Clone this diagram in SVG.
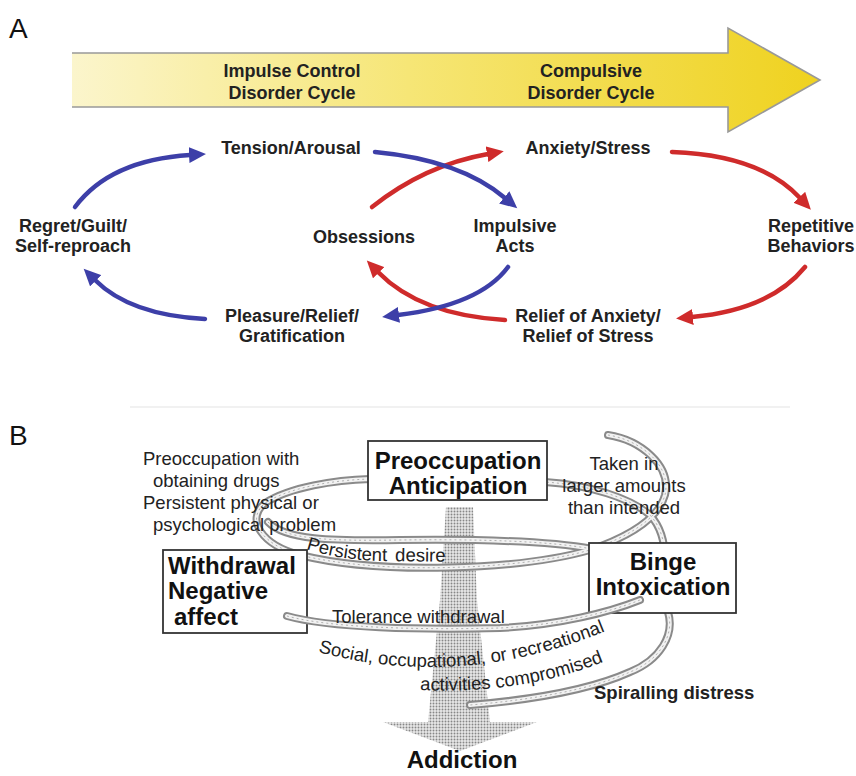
<svg xmlns="http://www.w3.org/2000/svg" width="856" height="776" viewBox="0 0 856 776">
<style>
.lbl{font-family:"Liberation Sans",Arial,sans-serif;font-size:28px;fill:#111}
.ta{font-family:"Liberation Sans",Arial,sans-serif;font-size:18px;font-weight:bold;fill:#222;text-anchor:middle}
.bx{fill:#fff;stroke:#333;stroke-width:1.8}
.tb{font-family:"Liberation Sans",Arial,sans-serif;font-size:24px;font-weight:bold;fill:#111}
.tr{font-family:"Liberation Sans",Arial,sans-serif;font-size:18.5px;fill:#222}
.blue{fill:none;stroke:#3d3fa8;stroke-width:4.5;stroke-linecap:round}
.red{fill:none;stroke:#cf2b2b;stroke-width:4.5;stroke-linecap:round}
.tubeO{fill:none;stroke:#8a8a8a;stroke-width:8;stroke-linecap:round;stroke-linejoin:round}
.tubeI{fill:none;stroke:#f2f2f2;stroke-width:4;stroke-linecap:round;stroke-linejoin:round}
.tubeT{fill:none;stroke:#b0b0b0;stroke-width:1;stroke-dasharray:2 3}
</style>
<defs>
<linearGradient id="yel" x1="0" y1="0" x2="1" y2="0">
<stop offset="0" stop-color="#fbf5cc"/>
<stop offset="0.45" stop-color="#f6e676"/>
<stop offset="1" stop-color="#efd21f"/>
</linearGradient>
<pattern id="dots" width="3" height="3" patternUnits="userSpaceOnUse">
<rect width="3" height="3" fill="#e6e6e6"/>
<circle cx="1.5" cy="1.5" r="0.95" fill="#7a7a7a"/>
</pattern>
<marker id="hb" markerUnits="userSpaceOnUse" markerWidth="18" markerHeight="16" viewBox="0 0 18 16" refX="1" refY="8" orient="auto">
<path d="M0,0 L17,8 L0,16 z" fill="#3d3fa8"/>
</marker>
<marker id="hr" markerUnits="userSpaceOnUse" markerWidth="18" markerHeight="16" viewBox="0 0 18 16" refX="1" refY="8" orient="auto">
<path d="M0,0 L17,8 L0,16 z" fill="#cf2b2b"/>
</marker>
</defs>
<rect width="856" height="776" fill="#fff"/>

<!-- Panel A -->
<text class="lbl" x="9" y="38">A</text>
<g id="progress-arrow">
<polygon points="72,53 728,53 728,28 820,80 728,132 728,107 72,107" fill="url(#yel)"/>
<polyline points="72,53 728,53 728,28 820,80 728,132 728,107 72,107" fill="none" stroke="#999" stroke-width="1.6"/>
<text class="ta" x="292" y="77">Impulse Control</text>
<text class="ta" x="292" y="99">Disorder Cycle</text>
<text class="ta" x="591" y="77">Compulsive</text>
<text class="ta" x="591" y="99">Disorder Cycle</text>
</g>
<g id="tension"><text class="ta" x="291" y="154">Tension/Arousal</text></g>
<g id="anxiety"><text class="ta" x="588" y="154">Anxiety/Stress</text></g>
<g id="regret"><text class="ta" x="73" y="232">Regret/Guilt/</text><text class="ta" x="73" y="252">Self-reproach</text></g>
<g id="obsessions"><text class="ta" x="364" y="243">Obsessions</text></g>
<g id="impulsive"><text class="ta" x="515" y="232">Impulsive</text><text class="ta" x="515" y="252">Acts</text></g>
<g id="repetitive"><text class="ta" x="811" y="232">Repetitive</text><text class="ta" x="811" y="252">Behaviors</text></g>
<g id="pleasure"><text class="ta" x="292" y="322">Pleasure/Relief/</text><text class="ta" x="292" y="342">Gratification</text></g>
<g id="relief"><text class="ta" x="588" y="322">Relief of Anxiety/</text><text class="ta" x="588" y="342">Relief of Stress</text></g>
<g id="connectors-a">
<path class="blue" d="M75,207 Q110,160 190,155" marker-end="url(#hb)"/>
<path class="red" d="M372,207 Q425,165 488,154" marker-end="url(#hr)"/>
<path class="blue" d="M375,152 Q460,160 505,198" marker-end="url(#hb)"/>
<path class="red" d="M672,152 Q760,155 800,198" marker-end="url(#hr)"/>
<path class="red" d="M805,267 Q770,310 692,317" marker-end="url(#hr)"/>
<path class="red" d="M505,320 Q420,315 378,272" marker-end="url(#hr)"/>
<path class="blue" d="M508,267 Q480,305 398,315" marker-end="url(#hb)"/>
<path class="blue" d="M205,319 Q130,315 95,280" marker-end="url(#hb)"/>
</g>

<!-- Panel B -->
<text class="lbl" x="9" y="445">B</text>
<line x1="130" y1="407" x2="790" y2="407" stroke="#ececec" stroke-width="1.5"/>
<g id="addiction-arrow">
<polygon points="446,507 473,507 477,600 490,722 537,722 460,751 383,722 428,722 440,600" fill="url(#dots)" opacity="0.9"/>
</g>
<g id="spiral">
<g class="tubeO">
<path d="M608,435 C640,440 672,465 665,495 C658,520 625,538 590,550 C520,570 380,575 300,555 C262,545 245,520 265,503 C290,487 335,480 370,479 L545,482 C590,485 630,498 650,515 C662,528 665,545 665,560 L668,612 C675,635 660,660 630,672 C590,690 530,700 470,705"/>
<path d="M268,522 C285,540 330,541 400,540 C480,539 550,541 592,549"/>
</g>
<g class="tubeI">
<path d="M608,435 C640,440 672,465 665,495 C658,520 625,538 590,550 C520,570 380,575 300,555 C262,545 245,520 265,503 C290,487 335,480 370,479 L545,482 C590,485 630,498 650,515 C662,528 665,545 665,560 L668,612 C675,635 660,660 630,672 C590,690 530,700 470,705"/>
<path d="M268,522 C285,540 330,541 400,540 C480,539 550,541 592,549"/>
</g>
<g class="tubeT">
<path d="M608,435 C640,440 672,465 665,495 C658,520 625,538 590,550 C520,570 380,575 300,555 C262,545 245,520 265,503 C290,487 335,480 370,479 L545,482 C590,485 630,498 650,515 C662,528 665,545 665,560 L668,612 C675,635 660,660 630,672 C590,690 530,700 470,705"/>
<path d="M268,522 C285,540 330,541 400,540 C480,539 550,541 592,549"/>
</g>
</g>
<g id="preoccupation">
<rect class="bx" x="368" y="441" width="179" height="59"/>
<text class="tb" x="458" y="469" text-anchor="middle">Preoccupation</text>
<text class="tb" x="458" y="494" text-anchor="middle">Anticipation</text>
</g>
<g id="withdrawal">
<rect class="bx" x="163" y="550" width="144" height="83"/>
<text class="tb" x="168" y="574">Withdrawal</text>
<text class="tb" x="168" y="599">Negative</text>
<text class="tb" x="174" y="625">affect</text>
</g>
<g id="binge">
<rect class="bx" x="589" y="543" width="147" height="70"/>
<text class="tb" x="663" y="570" text-anchor="middle">Binge</text>
<text class="tb" x="663" y="595" text-anchor="middle">Intoxication</text>
</g>
<g id="tolerance-band">
<path class="tubeO" d="M287,616 C330,628 420,630 500,628 C560,625 610,612 640,600"/>
<path class="tubeI" d="M287,616 C330,628 420,630 500,628 C560,625 610,612 640,600"/>
<path class="tubeT" d="M287,616 C330,628 420,630 500,628 C560,625 610,612 640,600"/>
</g>
<defs>
<path id="pd" d="M306,549 Q340,560 380,561 L470,562"/>
<path id="sc" d="M318,652 Q470,693 627,622"/>
<path id="ac" d="M420,690 Q530,695 617,656"/>
</defs>
<g id="notes">
<text class="tr" x="143" y="465">Preoccupation with</text>
<text class="tr" x="153" y="487">obtaining drugs</text>
<text class="tr" x="143" y="509">Persistent physical or</text>
<text class="tr" x="153" y="531">psychological problem</text>
<text class="tr" x="624" y="470" text-anchor="middle">Taken in</text>
<text class="tr" x="624" y="492" text-anchor="middle">larger amounts</text>
<text class="tr" x="624" y="514" text-anchor="middle">than intended</text>
<text class="tr"><textPath href="#pd">Persistent<tspan dx="8">desire</tspan></textPath></text>
<text class="tr" x="332" y="623">Tolerance withdrawal</text>
<text class="tr" font-size="18"><textPath href="#sc">Social, occupational, or recreational</textPath></text>
<text class="tr" font-size="18"><textPath href="#ac">activities compromised</textPath></text>
<text class="tr" x="594" y="699" font-weight="bold" font-size="18">Spiralling distress</text>
<text class="tb" x="462" y="768" text-anchor="middle">Addiction</text>
</g>
</svg>
